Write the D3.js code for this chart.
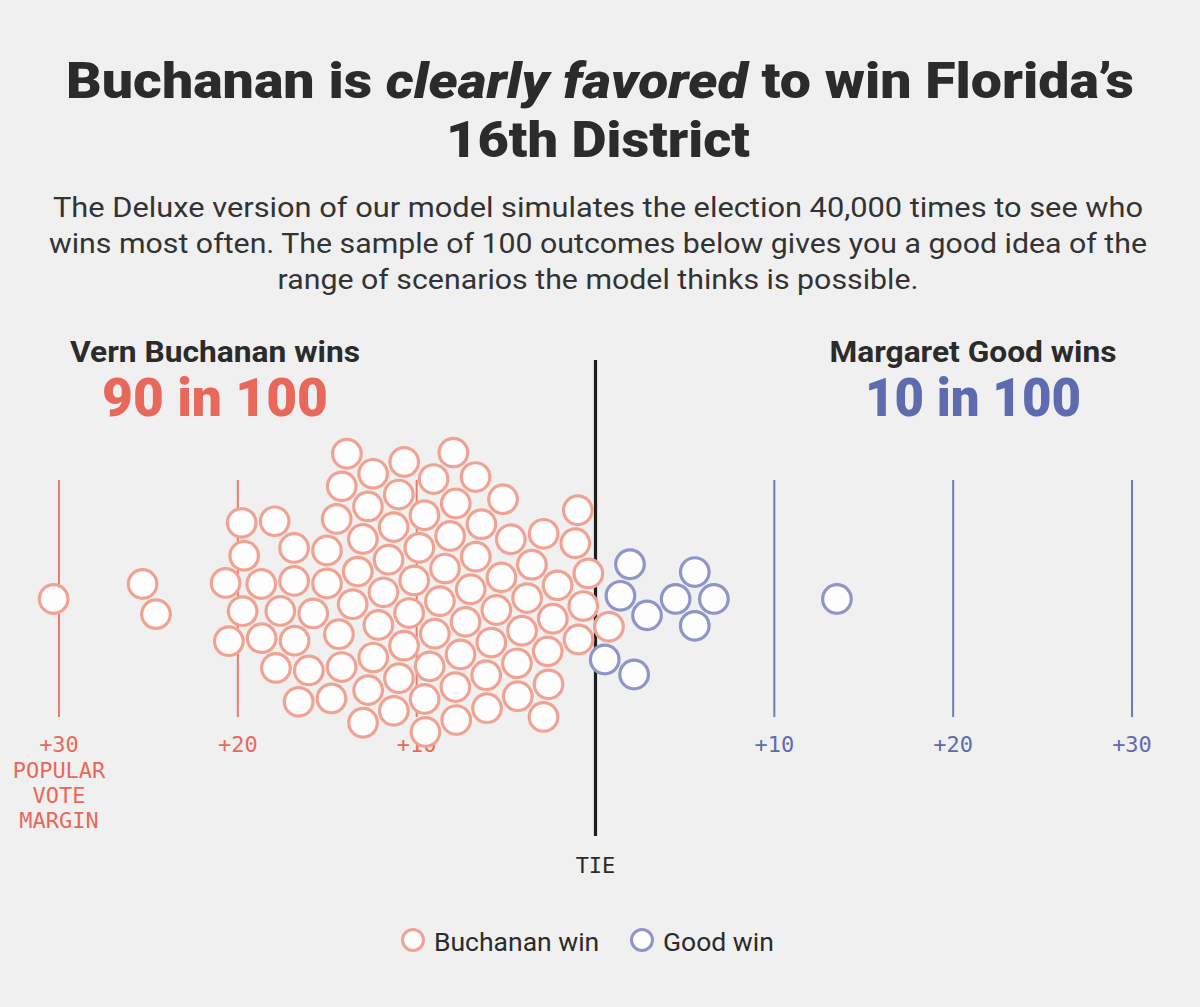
<!DOCTYPE html>
<html lang="en">
<head>
    <meta charset="UTF-8">
    <title>Buchanan is clearly favored to win Florida's 16th District</title>
    <script src="https://d3js.org/d3.v7.min.js"></script>
    <style>
        html, body { margin: 0; padding: 0; background: #f0f0f0; }
        svg { display: block; }
        .sans { font-family: Roboto, "Noto Sans", Arial, sans-serif; }
        .mono { font-family: "DejaVu Sans Mono", "Liberation Mono", monospace; }
    </style>
</head>
<body>
    <svg id="chart"></svg>

    <script>
        const width = 1200, height = 1007;

        const buchananWins = [
            12.7, 10.7, 13.9, 11.9, 10.4, 19.7, 17.0, 15.2, 13.2, 11.3,
            19.6, 18.1, 16.2, 14.7, 12.7, 11.2, 10.5, 20.3, 17.3, 15.7,
            14.2, 12.4, 10.8, 20.5, 18.7, 16.7, 15.2, 13.7, 11.9, 19.5,
            17.8, 15.9, 14.4, 12.7, 11.0, 17.6, 15.2, 13.3, 11.4, 11.1,
            12.9, 11.1, 9.1, 7.1, 8.6, 6.3, 4.6, 8.8, 7.4, 2.6,
            0.4, 9.7, 5.9, 4.1, 9.1, 7.4, 2.6, 0.8, 7.7, 6.0,
            4.5, 9.1, 6.5, 4.9, 2.9, 1.0, 9.5, 7.8, 6.6, 5.5,
            3.7, 2.0, 0.1, 8.5, 9.8, 6.4, 4.9, 3.0, 1.1, 8.1,
            9.8, 8.0, 6.2, 4.8, 2.9, 9.4, 7.4, 30.3, 25.3, 24.6
        ];
        const goodWins = [1.6, 0.8, 2.8, 1.9, 1.5, 5.5, 4.6, 6.6, 5.5, 13.5];

        const buchananTicks = [30, 20, 10];
        const goodTicks = [10, 20, 30];

        const subtitleLines = [
            "The Deluxe version of our model simulates the election 40,000 times to see who",
            "wins most often. The sample of 100 outcomes below gives you a good idea of the",
            "range of scenarios the model thinks is possible."
        ];
        const axisNote = ["POPULAR", "VOTE", "MARGIN"];

        const RED = "#e8695b", RED_RING = "#f0a393", RED_TICK = "#ec7b6e";
        const BLUE = "#5f6baf", BLUE_RING = "#8f95c9", BLUE_TICK = "#717ab8";
        const INK = "#2b2b2b";

        const svg = d3.select("#chart").attr("width", width).attr("height", height);

        svg.append("rect").attr("width", width).attr("height", height).attr("fill", "#f0f0f0");

        // negative = Buchanan ahead, positive = Good ahead
        const x = d3.scaleLinear().domain([-30, 30]).range([59, 1132]);
        const cy = 599;
        const R = 14.3;

        // ---- headline ----
        const title1 = svg.append("text").attr("class", "sans")
            .attr("x", width / 2).attr("y", 98)
            .attr("text-anchor", "middle")
            .attr("font-size", 50).attr("font-weight", 900).attr("fill", INK)
            .attr("textLength", 1068).attr("lengthAdjust", "spacingAndGlyphs");
        title1.append("tspan").text("Buchanan is ");
        title1.append("tspan").attr("font-style", "italic").text("clearly favored");
        title1.append("tspan").text(" to win Florida’s");

        svg.append("text").attr("class", "sans")
            .attr("x", width / 2 - 2).attr("y", 157)
            .attr("text-anchor", "middle")
            .attr("font-size", 50).attr("font-weight", 900).attr("fill", INK)
            .attr("textLength", 304).attr("lengthAdjust", "spacingAndGlyphs")
            .text("16th District");

        const subWidths = [1090, 1098, 641];
        svg.selectAll(".sub").data(subtitleLines).join("text")
            .attr("class", "sub sans")
            .attr("x", width / 2 - 2)
            .attr("y", (d, i) => 217 + i * 36)
            .attr("text-anchor", "middle")
            .attr("font-size", 27).attr("fill", "#333")
            .attr("textLength", (d, i) => subWidths[i]).attr("lengthAdjust", "spacingAndGlyphs")
            .text(d => d);

        // ---- candidate headers ----
        function header(cx, name, count, color, nameW, countW) {
            svg.append("text").attr("class", "sans")
                .attr("x", cx).attr("y", 362)
                .attr("text-anchor", "middle")
                .attr("font-size", 30).attr("font-weight", 700).attr("fill", INK)
                .attr("textLength", nameW).attr("lengthAdjust", "spacingAndGlyphs")
                .text(name);
            svg.append("text").attr("class", "sans")
                .attr("x", cx).attr("y", 416)
                .attr("text-anchor", "middle")
                .attr("font-size", 54).attr("font-weight", 900).attr("fill", color)
                .attr("textLength", countW).attr("lengthAdjust", "spacingAndGlyphs")
                .text(count);
        }
        header(215, "Vern Buchanan wins", `${buchananWins.length} in 100`, RED, 290, 226);
        header(973, "Margaret Good wins", `${goodWins.length} in 100`, BLUE, 287, 216);

        // ---- grid lines ----
        const grid = svg.append("g");
        grid.selectAll(".tick-b").data(buchananTicks).join("line")
            .attr("x1", d => x(-d)).attr("x2", d => x(-d))
            .attr("y1", 480).attr("y2", 717)
            .attr("stroke", RED_TICK).attr("stroke-width", 2);
        grid.selectAll(".tick-g").data(goodTicks).join("line")
            .attr("x1", d => x(d)).attr("x2", d => x(d))
            .attr("y1", 480).attr("y2", 717)
            .attr("stroke", BLUE_TICK).attr("stroke-width", 2);

        grid.append("line")
            .attr("x1", x(0)).attr("x2", x(0))
            .attr("y1", 360).attr("y2", 836)
            .attr("stroke", "#1e1e1e").attr("stroke-width", 3.2);

        // ---- tick labels ----
        const labels = svg.append("g").attr("class", "mono").attr("font-size", 22).attr("text-anchor", "middle");
        labels.selectAll(".lb").data(buchananTicks).join("text")
            .attr("x", d => x(-d)).attr("y", 752)
            .attr("fill", RED).text(d => "+" + d);
        labels.selectAll(".lg").data(goodTicks).join("text")
            .attr("x", d => x(d)).attr("y", 752)
            .attr("fill", BLUE).text(d => "+" + d);
        labels.selectAll(".note").data(axisNote).join("text")
            .attr("x", x(-30)).attr("y", (d, i) => 778 + i * 25)
            .attr("fill", RED).text(d => d);
        labels.append("text")
            .attr("x", x(0)).attr("y", 873)
            .attr("fill", INK).text("TIE");

        // ---- beeswarm ----
        const nodes = [
            ...buchananWins.map(m => ({ margin: -m, who: "b" })),
            ...goodWins.map(m => ({ margin: m, who: "g" }))
        ];
        nodes.forEach(d => { d.x = x(d.margin); d.y = cy; });

        const sim = d3.forceSimulation(nodes)
            .force("x", d3.forceX(d => x(d.margin)).strength(0.9))
            .force("y", d3.forceY(cy).strength(0.06))
            .force("collide", d3.forceCollide(R + 2.2).iterations(3))
            .stop();
        for (let i = 0; i < 300; i++) sim.tick();

        svg.append("g").selectAll("circle").data(nodes).join("circle")
            .attr("cx", d => d.x).attr("cy", d => d.y).attr("r", R)
            .attr("fill", "#fdfdfd")
            .attr("stroke", d => d.who === "b" ? RED_RING : BLUE_RING)
            .attr("stroke-width", 3.2);

        // ---- legend ----
        const legend = svg.append("g");
        const items = [
            { label: "Buchanan win", ring: RED_RING, cx: 413 },
            { label: "Good win", ring: BLUE_RING, cx: 642 }
        ];
        legend.selectAll("circle").data(items).join("circle")
            .attr("cx", d => d.cx).attr("cy", 940).attr("r", 10.5)
            .attr("fill", "#fdfdfd").attr("stroke", d => d.ring).attr("stroke-width", 3);
        legend.selectAll("text").data(items).join("text")
            .attr("class", "sans")
            .attr("x", d => d.cx + 21).attr("y", 951)
            .attr("font-size", 26.5).attr("fill", INK)
            .text(d => d.label);
    </script>
</body>
</html>
